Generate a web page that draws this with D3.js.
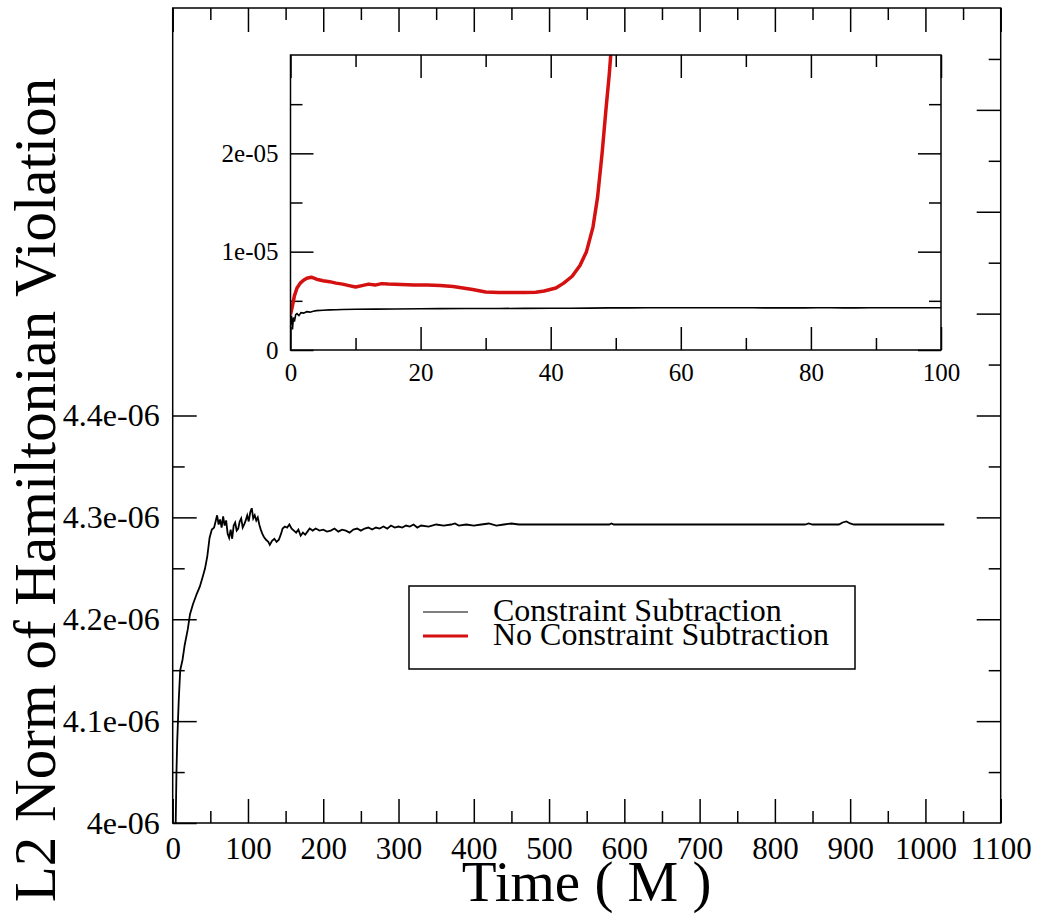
<!DOCTYPE html>
<html>
<head>
<meta charset="utf-8">
<script src="https://cdn.jsdelivr.net/npm/d3@7"></script>
<style>
  body { margin: 0; background: #fff; }
  svg text { font-family: "Liberation Serif", "DejaVu Serif", serif; fill: #000; }
</style>
</head>
<body>
<svg width="1040" height="914"></svg>
<script>
// Constraint Subtraction: time (M), L2 norm of Hamiltonian violation (units of 1e-06)
const csTime = [0, 0.15, 0.3, 0.45, 0.6, 0.8, 1, 1.3, 1.6, 2, 2.5, 3, 3.5, 4, 5, 6, 7, 8, 10, 13, 16, 20, 23, 27, 32, 36, 40, 43, 46, 49, 52, 55, 57, 59, 61, 63, 65, 67, 69, 71, 73, 75, 77, 79, 81, 83, 85, 87, 89, 91, 93, 95, 97, 99, 101, 103, 105, 107, 109, 111, 113, 115, 117, 119, 121, 124, 127, 129, 132, 135, 138, 141, 144, 146, 149, 152, 155, 158, 161, 164, 167, 170, 173, 176, 179, 182, 186, 190, 195, 200, 205, 210, 215, 220, 225, 230, 235, 240, 245, 250, 255, 260, 265, 270, 275, 280, 285, 290, 295, 300, 305, 310, 315, 320, 325, 330, 340, 350, 360, 370, 375, 380, 390, 400, 410, 420, 430, 440, 450, 460, 470, 580, 583, 586, 840, 845, 850, 885, 890, 895, 900, 905, 1025];
const csValue = [2.6, 3.5, 2.1, 3.3, 2.9, 3.6, 3.7, 3.5, 3.8, 3.75, 3.9, 3.85, 3.95, 4.0, 4.05, 4.08, 4.1, 4.12, 4.15, 4.16, 4.175, 4.19, 4.205, 4.215, 4.225, 4.232, 4.242, 4.25, 4.262, 4.28, 4.288, 4.29, 4.296, 4.302, 4.293, 4.298, 4.29, 4.301, 4.292, 4.297, 4.284, 4.28, 4.288, 4.279, 4.292, 4.295, 4.287, 4.289, 4.296, 4.299, 4.29, 4.293, 4.297, 4.302, 4.296, 4.305, 4.309, 4.299, 4.302, 4.297, 4.3, 4.293, 4.288, 4.284, 4.281, 4.278, 4.276, 4.273, 4.277, 4.279, 4.276, 4.278, 4.284, 4.289, 4.291, 4.29, 4.293, 4.289, 4.287, 4.285, 4.288, 4.282, 4.285, 4.283, 4.286, 4.289, 4.287, 4.289, 4.287, 4.288, 4.286, 4.287, 4.289, 4.286, 4.288, 4.287, 4.285, 4.288, 4.289, 4.287, 4.289, 4.29, 4.288, 4.29, 4.289, 4.291, 4.289, 4.292, 4.29, 4.291, 4.29, 4.292, 4.291, 4.293, 4.29, 4.292, 4.291, 4.293, 4.292, 4.293, 4.294, 4.292, 4.293, 4.292, 4.293, 4.294, 4.292, 4.293, 4.294, 4.293, 4.293, 4.293, 4.294, 4.293, 4.293, 4.294, 4.293, 4.293, 4.295, 4.296, 4.294, 4.293, 4.293];

// No Constraint Subtraction (inset only)
const ncsTime = [0, 0.3, 0.6, 1, 1.5, 2, 2.5, 3.2, 4, 5, 6, 7, 8, 9, 10, 11, 12, 13, 14, 15, 17, 19, 21, 23, 25, 26.5, 28, 30, 32, 34, 36, 37.7, 39, 40.8, 42, 43.3, 44.5, 45.5, 46.5, 47.2, 47.9, 48.5, 49, 49.4];
const ncsValue = [3.6, 4.5, 5.5, 6.3, 6.8, 7.1, 7.3, 7.4, 7.2, 7.05, 6.95, 6.8, 6.7, 6.55, 6.4, 6.55, 6.7, 6.6, 6.75, 6.7, 6.65, 6.62, 6.6, 6.55, 6.45, 6.3, 6.15, 5.9, 5.85, 5.85, 5.85, 5.88, 6.0, 6.3, 6.8, 7.5, 8.6, 10.0, 12.5, 15.5, 20, 24.5, 28, 31.5];

const seriesNames = ["Constraint Subtraction", "No Constraint Subtraction"];
const seriesColors = ["#000000", "#d41010"];

const xTicks = [0, 100, 200, 300, 400, 500, 600, 700, 800, 900, 1000, 1100];
const xTickLabels = ["0", "100", "200", "300", "400", "500", "600", "700", "800", "900", "1000", "1100"];
const yTicks = [4.0, 4.1, 4.2, 4.3, 4.4];
const yTickLabels = ["4e-06", "4.1e-06", "4.2e-06", "4.3e-06", "4.4e-06"];
const insetXTicks = [0, 20, 40, 60, 80, 100];
const insetXTickLabels = ["0", "20", "40", "60", "80", "100"];
const insetYTicks = [0, 10, 20];
const insetYTickLabels = ["0", "1e-05", "2e-05"];

const serif = '"Liberation Serif", "DejaVu Serif", serif';
const svg = d3.select("svg");

// main plot frame
const M = { left: 172.7, top: 8, right: 1000.7, bottom: 823 };
const x = d3.scaleLinear().domain([0, 1100]).range([M.left, M.right]);
const y = d3.scaleLinear().domain([4.0, 4.8]).range([M.bottom, M.top]);

// inset frame
const I = { left: 290.5, top: 55, right: 941, bottom: 350 };
const xi = d3.scaleLinear().domain([0, 100]).range([I.left, I.right]);
const yi = d3.scaleLinear().domain([0, 30]).range([I.bottom, I.top]);

const defs = svg.append("defs");
defs.append("clipPath").attr("id", "clipMain").append("rect")
    .attr("x", M.left).attr("y", M.top).attr("width", M.right - M.left).attr("height", M.bottom - M.top);
defs.append("clipPath").attr("id", "clipInset").append("rect")
    .attr("x", I.left).attr("y", I.top).attr("width", I.right - I.left).attr("height", I.bottom - I.top);

function styleAxis(g, fontSize) {
    g.attr("font-family", serif).attr("font-size", fontSize);
    g.select(".domain").remove();
    g.selectAll(".tick line").attr("stroke", "#000").attr("stroke-width", 1.5);
    g.selectAll(".tick text").attr("font-size", fontSize).attr("font-family", serif);
}

// tick step helpers
const range = (a, b, s) => d3.range(a, b + s / 2, s);

// ---- main axes ----
const fmt = (ticks, labels) => d => labels[ticks.indexOf(d)] ?? "";

svg.append("g").attr("transform", `translate(0,${M.bottom})`)
    .call(d3.axisBottom(x).tickValues(xTicks).tickFormat(fmt(xTicks, xTickLabels)).tickSize(-24).tickPadding(14))
    .call(g => styleAxis(g, 31));
svg.append("g").attr("transform", `translate(0,${M.bottom})`)
    .call(d3.axisBottom(x).tickValues(range(50, 1050, 100)).tickFormat("").tickSize(-12))
    .call(g => styleAxis(g, 31));
svg.append("g").attr("transform", `translate(0,${M.top})`)
    .call(d3.axisTop(x).tickValues(xTicks).tickFormat("").tickSize(-24))
    .call(g => styleAxis(g, 31));
svg.append("g").attr("transform", `translate(0,${M.top})`)
    .call(d3.axisTop(x).tickValues(range(50, 1050, 100)).tickFormat("").tickSize(-12))
    .call(g => styleAxis(g, 31));

svg.append("g").attr("transform", `translate(${M.left},0)`)
    .call(d3.axisLeft(y).tickValues(yTicks).tickFormat(fmt(yTicks, yTickLabels)).tickSize(-24).tickPadding(13))
    .call(g => styleAxis(g, 32));
svg.append("g").attr("transform", `translate(${M.left},0)`)
    .call(d3.axisLeft(y).tickValues([4.05, 4.15, 4.25, 4.35]).tickFormat("").tickSize(-12))
    .call(g => styleAxis(g, 32));
svg.append("g").attr("transform", `translate(${M.right},0)`)
    .call(d3.axisRight(y).tickValues(range(4.1, 4.7, 0.1)).tickFormat("").tickSize(-24))
    .call(g => styleAxis(g, 32));
svg.append("g").attr("transform", `translate(${M.right},0)`)
    .call(d3.axisRight(y).tickValues(range(4.05, 4.75, 0.1)).tickFormat("").tickSize(-12))
    .call(g => styleAxis(g, 32));

svg.append("rect")
    .attr("x", M.left).attr("y", M.top).attr("width", M.right - M.left).attr("height", M.bottom - M.top)
    .attr("fill", "none").attr("stroke", "#000").attr("stroke-width", 1.5);

// main data line
const csData = csTime.map((t, i) => ({ t, v: csValue[i] }));
const ncsData = ncsTime.map((t, i) => ({ t, v: ncsValue[i] }));

svg.append("path")
    .datum(csData)
    .attr("clip-path", "url(#clipMain)")
    .attr("fill", "none").attr("stroke", seriesColors[0]).attr("stroke-width", 1.8)
    .attr("d", d3.line().x(d => x(d.t)).y(d => y(d.v)));

// axis titles
svg.append("text")
    .attr("x", (M.left + M.right) / 2).attr("y", 901)
    .attr("text-anchor", "middle").attr("font-size", 57)
    .text("Time ( M )");
svg.append("text")
    .attr("transform", "translate(55,490) rotate(-90)")
    .attr("text-anchor", "middle").attr("font-size", 59)
    .text("L2 Norm of Hamiltonian Violation");

// ---- inset ----
svg.append("rect")
    .attr("x", I.left).attr("y", I.top).attr("width", I.right - I.left).attr("height", I.bottom - I.top)
    .attr("fill", "#fff");

svg.append("g").attr("transform", `translate(0,${I.bottom})`)
    .call(d3.axisBottom(xi).tickValues(insetXTicks).tickFormat(fmt(insetXTicks, insetXTickLabels)).tickSize(-23).tickPadding(13))
    .call(g => styleAxis(g, 25));
svg.append("g").attr("transform", `translate(0,${I.bottom})`)
    .call(d3.axisBottom(xi).tickValues(range(10, 90, 20)).tickFormat("").tickSize(-12))
    .call(g => styleAxis(g, 25));
svg.append("g").attr("transform", `translate(0,${I.top})`)
    .call(d3.axisTop(xi).tickValues(insetXTicks).tickFormat("").tickSize(-23))
    .call(g => styleAxis(g, 25));
svg.append("g").attr("transform", `translate(0,${I.top})`)
    .call(d3.axisTop(xi).tickValues(range(10, 90, 20)).tickFormat("").tickSize(-12))
    .call(g => styleAxis(g, 25));
svg.append("g").attr("transform", `translate(${I.left},0)`)
    .call(d3.axisLeft(yi).tickValues(insetYTicks).tickFormat(fmt(insetYTicks, insetYTickLabels)).tickSize(-23).tickPadding(12))
    .call(g => styleAxis(g, 25));
svg.append("g").attr("transform", `translate(${I.left},0)`)
    .call(d3.axisLeft(yi).tickValues([5, 15, 25]).tickFormat("").tickSize(-12))
    .call(g => styleAxis(g, 25));
svg.append("g").attr("transform", `translate(${I.right},0)`)
    .call(d3.axisRight(yi).tickValues(insetYTicks).tickFormat("").tickSize(-23))
    .call(g => styleAxis(g, 25));
svg.append("g").attr("transform", `translate(${I.right},0)`)
    .call(d3.axisRight(yi).tickValues([5, 15, 25]).tickFormat("").tickSize(-12))
    .call(g => styleAxis(g, 25));

const insetLine = d3.line().x(d => xi(d.t)).y(d => yi(d.v));
const insetG = svg.append("g").attr("clip-path", "url(#clipInset)");
insetG.append("path").datum(ncsData)
    .attr("fill", "none").attr("stroke", seriesColors[1]).attr("stroke-width", 3.5)
    .attr("stroke-linejoin", "round").attr("d", insetLine);
insetG.append("path").datum(csData.filter(d => d.t <= 110))
    .attr("fill", "none").attr("stroke", seriesColors[0]).attr("stroke-width", 1.6)
    .attr("d", insetLine);

svg.append("rect")
    .attr("x", I.left).attr("y", I.top).attr("width", I.right - I.left).attr("height", I.bottom - I.top)
    .attr("fill", "none").attr("stroke", "#000").attr("stroke-width", 1.5);

// ---- legend ----
const legend = svg.append("g").attr("transform", "translate(409,586)");
legend.append("rect").attr("width", 446).attr("height", 83)
    .attr("fill", "#fff").attr("stroke", "#000").attr("stroke-width", 1.5);
seriesNames.forEach((name, i) => {
    const row = legend.append("g").attr("transform", `translate(0,${26 + i * 24})`);
    row.append("line").attr("x1", 14).attr("x2", 59).attr("y1", 0).attr("y2", 0)
        .attr("stroke", seriesColors[i]).attr("stroke-width", i === 0 ? 1.2 : 3);
    row.append("text").attr("x", 84).attr("y", 9).attr("font-size", 32).text(name);
});
</script>
</body>
</html>
